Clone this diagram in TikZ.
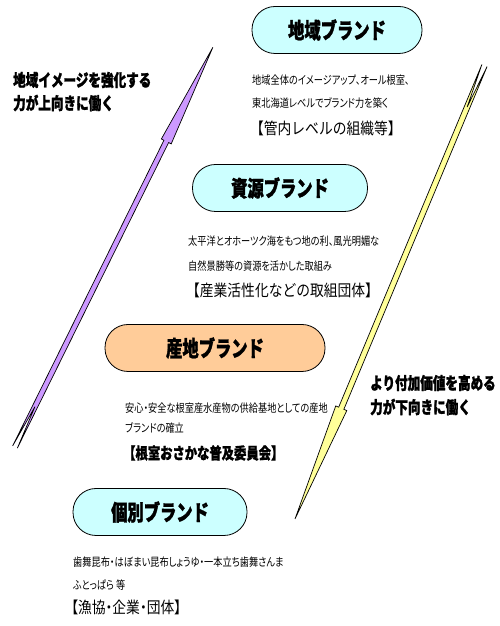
\documentclass[tikz,border=0pt]{standalone}
\usepackage{fontspec}
\newfontfamily\jpfont{Noto Sans CJK JP}[FakeStretch=0.74,BoldFeatures={FakeBold=1.4}]
\newfontfamily\jpprop{Noto Sans CJK JP}[FakeStretch=0.8,RawFeature=+palt]
\newfontfamily\jpwide{Noto Sans CJK JP}[FakeStretch=0.86]
\newfontfamily\jpwideprop{Noto Sans CJK JP}[FakeStretch=0.86,RawFeature=+palt]
\newfontfamily\jpbold{Noto Sans CJK JP}[FakeStretch=0.77,BoldFeatures={FakeBold=1.2}]
\usetikzlibrary{positioning}
\definecolor{brandcyan}{HTML}{CCFFFF}
\definecolor{brandorange}{HTML}{FFCC99}
\definecolor{uparrow}{HTML}{CC99FF}
\definecolor{downarrow}{HTML}{FFFF99}

\begin{document}
\begin{tikzpicture}[x=1pt,y=1pt,
    brand/.style={draw,line width=0.8pt,rounded corners=23pt,minimum height=47pt,inner sep=0pt,
        font=\jpfont\bfseries\fontsize{22}{22}\selectfont},
    desc/.style={anchor=west,inner sep=0pt,font=\jpprop\fontsize{11.5}{12}\selectfont},
    tag/.style={anchor=west,inner sep=0pt,font=\jpwide\fontsize{16}{16}\selectfont},
    force/.style={anchor=west,inner sep=0pt,font=\jpfont\bfseries\fontsize{17}{17}\selectfont},
    arrowbody/.style={draw,line width=0.7pt,line join=miter}]
    \useasboundingbox (0,0) rectangle (500,626);

    % force arrows
    \begin{scope}[shift={(15,179)},rotate=63.66]
        \filldraw[arrowbody,fill=uparrow] (0,2.6) -- (341,2.6) -- (341,5.5) -- (446,0)
            -- (341,-5.5) -- (341,-2.6) -- (0,-2.6) -- (45,0) -- cycle;
    \end{scope}
    \begin{scope}[shift={(484.5,560.5)},rotate=247.32]
        \filldraw[arrowbody,fill=downarrow] (0,2.8) -- (371.5,2.8) -- (371.5,6) -- (491.5,0)
            -- (371.5,-6) -- (371.5,-2.8) -- (0,-2.8) -- (45,0) -- cycle;
    \end{scope}

    \node[force] (upa) at (13,546) {地域イメージを強化する};
    \node[force] (upb) at (13,523) {力が上向きに働く};
    \node[force] (downa) at (370,243) {より付加価値を高める};
    \node[force] (downb) at (370,219) {力が下向きに働く};

    % brand levels
    \node[brand,fill=brandcyan,minimum width=170pt] (area) at (337,596) {地域ブランド};
    \node[desc] (area1) at (252,546) {地域全体のイメージアップ、オール根室、};
    \node[desc] (area2) at (252,523) {東北海道レベルでブランド力を築く};
    \node[tag] (areatag) at (250,498) {【管内レベルの組織等】};

    \node[brand,fill=brandcyan,minimum width=175pt] (resource) at (280,438) {資源ブランド};
    \node[desc] (resource1) at (188,385) {太平洋とオホーツク海をもつ地の利、風光明媚な};
    \node[desc] (resource2) at (188,360) {自然景勝等の資源を活かした取組み};
    \node[tag] (resourcetag) at (186,336) {【産業活性化などの取組団体】};

    \node[brand,fill=brandorange,minimum width=220pt] (origin) at (215,278) {産地ブランド};
    \node[desc] (origin1) at (125,218) {安心・安全な根室産水産物の供給基地としての産地};
    \node[desc] (origin2) at (125,198) {ブランドの確立};
    \node[tag,font=\jpbold\bfseries\fontsize{16}{16}\selectfont] (origintag) at (123,173) {【根室おさかな普及委員会】};

    \node[brand,fill=brandcyan,minimum width=174pt] (item) at (160,114) {個別ブランド};
    \node[desc] (item1) at (73,64) {歯舞昆布・はぼまい昆布しょうゆ・一本立ち歯舞さんま};
    \node[desc] (item2) at (73,41) {ふとっぱら 等};
    \node[tag,font=\jpwideprop\fontsize{16}{16}\selectfont] (itemtag) at (71,19) {【漁協・企業・団体】};
\end{tikzpicture}
\end{document}
